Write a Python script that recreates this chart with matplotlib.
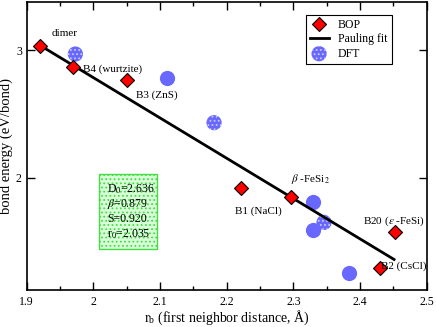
import matplotlib
matplotlib.use("Agg")
import matplotlib.pyplot as plt
from matplotlib.patches import Rectangle
from matplotlib.ticker import FixedLocator, NullLocator, FixedFormatter

# BOP structures
bop_r = [1.920, 1.970, 2.050, 2.221, 2.296, 2.452, 2.430]
bop_e = [3.043, 2.843, 2.731, 1.935, 1.884, 1.682, 1.500]
bop_labels = ["dimer", "B4 (wurtzite)", "B3 (ZnS)", "B1 (NaCl)",
              r"$\beta$ -FeSi$_2$", r"B20 ($\varepsilon$ -FeSi)", "B2 (CsCl)"]

# DFT values
dft_r = [1.973, 2.111, 2.181, 2.330, 2.346, 2.330, 2.384]
dft_e = [2.966, 2.751, 2.384, 1.854, 1.736, 1.694, 1.479]
dft_dotted = [True, False, True, False, True, False, False]

# Pauling fit line ends
fit_r = [1.920, 2.451]
fit_e = [3.049, 1.543]

plt.rcParams["font.family"] = ["Liberation Serif", "DejaVu Serif"]
plt.rcParams["mathtext.fontset"] = "stix"
plt.rcParams["hatch.linewidth"] = 0.8

fig = plt.figure(figsize=(4.36, 3.27), dpi=100)
ax = fig.add_axes([0.0612, 0.1131, 0.9175, 0.8808])
ax.set_yscale("log")

ax.plot(fit_r, fit_e, color="black", lw=2, label="Pauling fit", zorder=3)

blue = "#6868ff"
for r, e, dot in zip(dft_r, dft_e, dft_dotted):
    ax.scatter([r], [e], s=120, marker="o", facecolor=blue,
               edgecolor="#c8c8ff" if dot else blue, linewidths=0,
               hatch="...." if dot else None, zorder=2)
ax.scatter([], [], s=120, marker="o", facecolor=blue, edgecolor="#c8c8ff",
           linewidths=0, hatch="....", label="DFT")

ax.plot(bop_r, bop_e, ls="none", marker="D", ms=7.5, mfc="#ff0000",
        mec="black", mew=0.8, label="BOP", zorder=4)

# point labels
label_pos = [(1.937, 3.17), (1.984, 2.83), (2.064, 2.60), (2.212, 1.80),
             (2.297, 1.99), (2.405, 1.745), (2.432, 1.51)]
for (x, y), txt in zip(label_pos, bop_labels):
    ax.text(x, y, txt, fontsize=8, va="center", ha="left", zorder=5)

ax.set_xlim(1.9, 2.5)
ax.set_ylim(1.4, 3.5)
ax.xaxis.set_major_locator(FixedLocator([1.9, 2.0, 2.1, 2.2, 2.3, 2.4, 2.5]))
ax.xaxis.set_major_formatter(FixedFormatter(["1.9", "2", "2.1", "2.2", "2.3", "2.4", "2.5"]))
ax.xaxis.set_minor_locator(FixedLocator([1.95, 2.05, 2.15, 2.25, 2.35, 2.45]))
ax.yaxis.set_major_locator(FixedLocator([2, 3]))
ax.yaxis.set_major_formatter(FixedFormatter(["2", "3"]))
ax.yaxis.set_minor_locator(NullLocator())
ax.tick_params(which="both", direction="in", top=True, right=True, labelsize=8.5)
ax.tick_params(which="major", length=6, width=1)
ax.tick_params(which="minor", length=3, width=1)
ax.tick_params(axis="x", pad=4)
for s in ax.spines.values():
    s.set_linewidth(1.2)

ax.set_xlabel(r"r$_\mathregular{b}$ (first neighbor distance, $\mathregular{\AA}$)", fontsize=10)
ax.set_ylabel("bond energy (eV/bond)", fontsize=10.5)
ax.xaxis.set_label_coords(0.5, -0.096)
ax.yaxis.set_label_coords(-0.05, 0.5)
ax.xaxis.label.set_va("center")
ax.yaxis.label.set_va("center")

# legend
h, l = ax.get_legend_handles_labels()
order = [l.index("BOP"), l.index("Pauling fit"), l.index("DFT")]
leg = ax.legend([h[i] for i in order], [l[i] for i in order],
                loc="upper left", bbox_to_anchor=(0.697, 0.955), fontsize=8.5,
                fancybox=False, edgecolor="black", framealpha=1,
                handlelength=1.6, handletextpad=0.8, borderpad=0.35,
                labelspacing=0.2, borderaxespad=0)
leg.get_frame().set_linewidth(0.8)

# parameter box
ax.add_patch(Rectangle((0.181, 0.142), 0.1455, 0.26, transform=ax.transAxes,
                       facecolor="#d8ffd8", edgecolor="#44dd44", lw=1,
                       hatch="....", zorder=1))
params = [r"D$_0$=2.636", r"$\beta$=0.879", "S=0.920", r"r$_0$=2.035"]
for i, t in enumerate(params):
    ax.text(0.202, 0.35 - i * 0.052, t, transform=ax.transAxes,
            fontsize=8.5, va="center", ha="left", zorder=5)

fig.savefig("out.png", dpi=100)
